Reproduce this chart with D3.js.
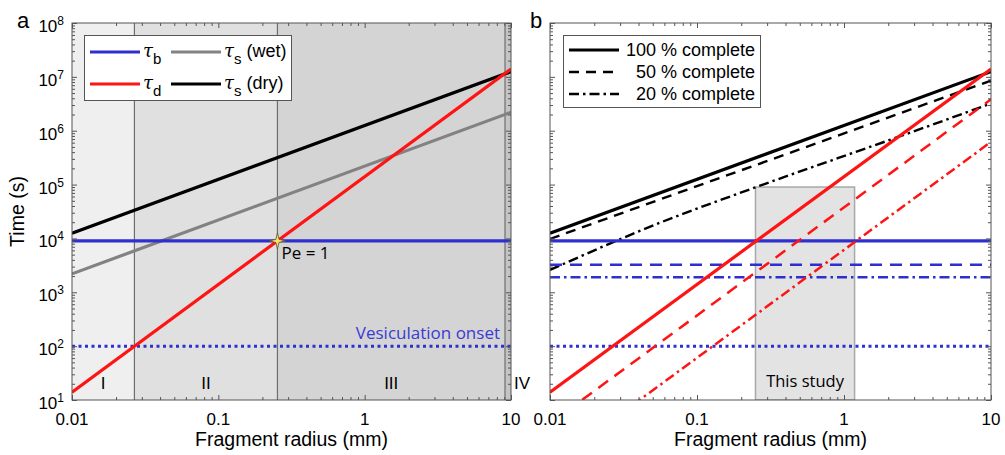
<!DOCTYPE html>
<html><head><meta charset="utf-8">
<script src="https://cdn.jsdelivr.net/npm/d3@7"></script>
<style>body{margin:0;background:#fff}svg{display:block}text{font-family:Arial,"Liberation Sans",sans-serif;fill:#000}</style>
</head><body><svg id="c" width="1005" height="455"></svg>
<script>
// ---------- data ----------
const rDomain = [0.01, 10];
const tDomain = [10, 1e8];
const rEnds = [0.01, 10];                 // radii at which straight-line values are given
const yTickExps = [1, 2, 3, 4, 5, 6, 7, 8];
const xTicks = [0.01, 0.1, 1, 10];
const xTickLabels = ["0.01", "0.1", "1", "10"];
// panel a
const tauB = [9000, 9000];
const tauD = [14, 1.4e7];
const tauSWet = [2200, 2.2e6];
const tauSDry = [1.25e4, 1.25e7];
const vesOnset = [100, 100];
const regionBounds = [0.01, 0.0267, 0.2535, 9.1, 10];
const regionLabels = ["I", "II", "III", "IV"];
const pePoint = [0.2535, 9000];
// panel b
const sDry100 = [1.25e4, 1.25e7];
const sDry50 = [9800, 8.5e6];
const rS20 = [0.01, 0.0561, 0.256, 2.41, 10];
const sDry20 = [2600, 19600, 91000, 7.9e5, 3.2e6];
const d100 = [14, 1.4e7];
const d50 = [3.66, 3.83e6];
const d20 = [0.6, 6.2e5];
const b100 = [9000, 9000];
const b50 = [3240, 3240];
const b20 = [1900, 1900];
const studyRange = [0.25, 1.18];
const studyTop = 9e4;
const legendB = ["100 % complete", "50 % complete", "20 % complete"];

// ---------- setup ----------
const svg = d3.select("#c");
const BLUE = "#2f2fd0", RED = "#ff1414", GRAY = "#828282";
const TOP = 23, BOT = 400;
const y = d3.scaleLog().domain(tDomain).range([BOT, TOP]);
const xa = d3.scaleLog().domain(rDomain).range([72, 511]);
const xb = d3.scaleLog().domain(rDomain).range([550, 991]);
const defs = svg.append("defs");
function clip(id, x) {
  defs.append("clipPath").attr("id", id).append("rect")
    .attr("x", x.range()[0]).attr("y", TOP)
    .attr("width", x.range()[1] - x.range()[0]).attr("height", BOT - TOP);
}
clip("ca", xa); clip("cb", xb);

function line(g, x, vals, color, w, dash, rs) {
  const rr = rs || rEnds;
  const pts = rr.map((r, i) => [x(r), y(vals[i])]);
  g.append("path").attr("d", d3.line().curve(rs ? d3.curveMonotoneX : d3.curveLinear)(pts)).attr("fill", "none")
    .attr("stroke", color).attr("stroke-width", w)
    .attr("stroke-dasharray", dash || null);
}

const minorX = [], minorY = [];
for (let e = -2; e < 1; e++) for (let k = 2; k <= 9; k++) minorX.push(k * Math.pow(10, e));
for (let e = 1; e < 8; e++) for (let k = 2; k <= 9; k++) minorY.push(k * Math.pow(10, e));

function axes(x, showY) {
  const g = svg.append("g");
  const x0 = x.range()[0], x1 = x.range()[1];
  const ax = (gen, tr) => g.append("g").attr("transform", tr).call(gen)
    .call(s => { s.select(".domain").remove(); s.selectAll("line").attr("stroke", "#555"); s.selectAll("text").remove(); });
  ax(d3.axisBottom(x).tickValues(xTicks).tickSize(-5), `translate(0,${BOT})`);
  ax(d3.axisBottom(x).tickValues(minorX).tickSize(-3), `translate(0,${BOT})`);
  ax(d3.axisTop(x).tickValues(xTicks).tickSize(-5), `translate(0,${TOP})`);
  ax(d3.axisTop(x).tickValues(minorX).tickSize(-3), `translate(0,${TOP})`);
  const yMaj = yTickExps.map(e => Math.pow(10, e));
  ax(d3.axisLeft(y).tickValues(yMaj).tickSize(-5), `translate(${x0},0)`);
  ax(d3.axisLeft(y).tickValues(minorY).tickSize(-3), `translate(${x0},0)`);
  ax(d3.axisRight(y).tickValues(yMaj).tickSize(-5), `translate(${x1},0)`);
  ax(d3.axisRight(y).tickValues(minorY).tickSize(-3), `translate(${x1},0)`);
  g.append("rect").attr("x", x0).attr("y", TOP).attr("width", x1 - x0).attr("height", BOT - TOP)
    .attr("fill", "none").attr("stroke", "#555").attr("stroke-width", 1);
  xTicks.forEach((v, i) => {
    g.append("text").attr("x", x(v)).attr("y", 425).attr("text-anchor", "middle")
      .attr("font-size", 17).text(xTickLabels[i]);
  });
  g.append("text").attr("x", (x0 + x1) / 2).attr("y", 446).attr("text-anchor", "middle")
    .attr("font-size", 19.5).text("Fragment radius (mm)");
  if (showY) {
    yTickExps.forEach(e => {
      const t = g.append("text").attr("x", x0 - 8).attr("y", y(Math.pow(10, e)) + 9)
        .attr("text-anchor", "end").attr("font-size", 17);
      t.append("tspan").text("10");
      t.append("tspan").attr("font-size", 12).attr("dy", -7).text(String(e));
    });
  }
  return g;
}

// ---------- panel a ----------
const ga = svg.append("g").attr("clip-path", "url(#ca)");
const regionFill = ["#efefef", "#e0e0e0", "#d4d4d4", "#c4c4c4"];
regionLabels.forEach((lab, i) => {
  ga.append("rect").attr("x", xa(regionBounds[i])).attr("y", TOP)
    .attr("width", xa(regionBounds[i + 1]) - xa(regionBounds[i])).attr("height", BOT - TOP)
    .attr("fill", regionFill[i]);
});
regionBounds.slice(1, 4).forEach(b => {
  ga.append("line").attr("x1", xa(b)).attr("x2", xa(b)).attr("y1", TOP).attr("y2", BOT)
    .attr("stroke", "#6e6e6e").attr("stroke-width", 1.2);
});
line(ga, xa, tauSDry, "#000", 3.2);
line(ga, xa, tauSWet, GRAY, 3.2);
line(ga, xa, tauB, BLUE, 3.2);
line(ga, xa, vesOnset, BLUE, 3, "3,3.5");
line(ga, xa, tauD, RED, 3.2);
regionLabels.forEach((lab, i) => {
  const cx = i < 3 ? (xa(regionBounds[i]) + xa(regionBounds[i + 1])) / 2 : xa(10) + 11;
  svg.append("text").attr("x", cx).attr("y", 389).attr("text-anchor", "middle")
    .attr("font-size", 17).text(lab);
});
const sx = xa(pePoint[0]), sy = y(pePoint[1]);
const starPts = [];
for (let k = 0; k < 8; k++) {
  const a = k * Math.PI / 4 - Math.PI / 2, rr = k % 2 ? 2.2 : 8;
  starPts.push([sx + rr * Math.cos(a), sy + rr * Math.sin(a)]);
}
svg.append("path").attr("d", d3.line().curve(d3.curveLinearClosed)(starPts))
  .attr("fill", "#f7e56a").attr("stroke", "#5a5030").attr("stroke-width", 0.8);
svg.append("text").attr("x", sx + 4).attr("y", sy + 18).attr("font-size", 17)
  .style("font-family", "'Open Sans',sans-serif").text("Pe = 1");
svg.append("text").attr("x", 500).attr("y", 339).attr("text-anchor", "end").attr("font-size", 17)
  .style("font-family", "'Open Sans',sans-serif").style("fill", "#3a3ad6").text("Vesiculation onset");
axes(xa, true);
const la = svg.append("g");
la.append("rect").attr("x", 84.5).attr("y", 35.5).attr("width", 207).attr("height", 65)
  .attr("fill", "#fff").attr("stroke", "#555");
const legA = [
  { c: BLUE, x: 90, y: 52, sub: "b", extra: "" },
  { c: GRAY, x: 171, y: 52, sub: "s", extra: " (wet)" },
  { c: RED, x: 90, y: 84, sub: "d", extra: "" },
  { c: "#000", x: 171, y: 84, sub: "s", extra: " (dry)" }];
legA.forEach(d => {
  la.append("line").attr("x1", d.x).attr("x2", d.x + 50).attr("y1", d.y).attr("y2", d.y)
    .attr("stroke", d.c).attr("stroke-width", 3);
  const t = la.append("text").attr("x", d.x + 53).attr("y", d.y + 5).attr("font-size", 18);
  t.append("tspan").style("font-style", "italic").style("font-family", "'DejaVu Serif',serif").text("τ");
  t.append("tspan").attr("dy", 7).attr("font-size", 15).text(d.sub);
  if (d.extra) t.append("tspan").attr("dy", -7).text(d.extra);
});
svg.append("text").attr("x", 17).attr("y", 28).attr("font-size", 22).text("a");
svg.append("text").attr("transform", `rotate(-90,22,${(TOP + BOT) / 2})`)
  .attr("x", 22).attr("y", (TOP + BOT) / 2 + 2)
  .attr("font-size", 19.5).attr("text-anchor", "middle").text("Time (s)");

// ---------- panel b ----------
const gb = svg.append("g").attr("clip-path", "url(#cb)");
gb.append("rect").attr("x", xb(studyRange[0])).attr("y", y(studyTop))
  .attr("width", xb(studyRange[1]) - xb(studyRange[0])).attr("height", BOT - y(studyTop))
  .attr("fill", "#e3e3e3").attr("stroke", "#a8a8a8").attr("stroke-width", 1.5);
svg.append("text").attr("x", (xb(studyRange[0]) + xb(studyRange[1])) / 2).attr("y", 387)
  .attr("text-anchor", "middle").attr("font-size", 16.5).style("font-family", "'Open Sans',sans-serif").text("This study");
const DASH = "10,7", DASHDOT = "10,4,2.5,4";
line(gb, xb, sDry100, "#000", 3.2);
line(gb, xb, sDry50, "#000", 2.4, DASH);
line(gb, xb, sDry20, "#000", 2.4, DASHDOT, rS20);
line(gb, xb, b100, BLUE, 3.2);
line(gb, xb, b50, BLUE, 2.5, "12,8");
line(gb, xb, b20, BLUE, 2.5, DASHDOT);
line(gb, xb, vesOnset, BLUE, 3, "3,3.5");
line(gb, xb, d100, RED, 3.2);
line(gb, xb, d50, RED, 2.5, "12,8");
line(gb, xb, d20, RED, 2.5, DASHDOT);
axes(xb, false);
const lb = svg.append("g");
lb.append("rect").attr("x", 563.5).attr("y", 35.5).attr("width", 197).attr("height", 72)
  .attr("fill", "#fff").attr("stroke", "#555");
const lbStyle = [[3, null], [2.4, DASH], [2.4, DASHDOT]];
legendB.forEach((s, i) => {
  const yy = 50 + i * 22;
  lb.append("line").attr("x1", 569).attr("x2", 619).attr("y1", yy).attr("y2", yy)
    .attr("stroke", "#000").attr("stroke-width", lbStyle[i][0]).attr("stroke-dasharray", lbStyle[i][1]);
  lb.append("text").attr("x", 755).attr("y", yy + 6).attr("text-anchor", "end").attr("font-size", 18).text(s);
});
svg.append("text").attr("x", 530).attr("y", 28).attr("font-size", 22).text("b");
</script></body></html>
